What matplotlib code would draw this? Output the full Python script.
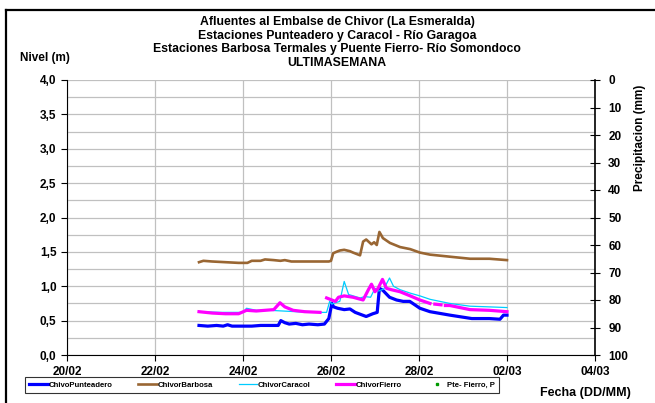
import numpy as np
import matplotlib.pyplot as plt
import matplotlib.dates as mdates
from matplotlib.lines import Line2D
from matplotlib.ticker import MultipleLocator, FuncFormatter
from datetime import datetime, timedelta

plt.switch_backend('Agg')
plt.rcParams['font.family'] = ['Liberation Sans', 'DejaVu Sans']
plt.rcParams['font.weight'] = 'bold'

start = datetime(2023, 2, 20)

# level series: days after 20/02 00:00 and level in metres
punteadero_t = [3.0, 3.2, 3.4, 3.55, 3.65, 3.75, 4.0, 4.2, 4.4, 4.6, 4.8, 4.86, 4.95, 5.05,
                5.2, 5.35, 5.5, 5.7, 5.85, 5.95, 6.02, 6.06, 6.15, 6.3, 6.43, 6.55, 6.8,
                6.95, 7.05, 7.1, 7.18, 7.33, 7.49, 7.64, 7.79, 8.02, 8.25, 8.7, 9.0, 9.2,
                9.4, 9.6, 9.84, 9.92, 10.0]
punteadero_v = [0.43, 0.42, 0.43, 0.42, 0.44, 0.42, 0.42, 0.42, 0.43, 0.43, 0.43, 0.50, 0.47, 0.45,
                0.46, 0.44, 0.45, 0.44, 0.45, 0.53, 0.75, 0.70, 0.68, 0.66, 0.67, 0.62, 0.56,
                0.60, 0.62, 0.97, 0.94, 0.84, 0.80, 0.78, 0.78, 0.68, 0.63, 0.58, 0.55, 0.53,
                0.53, 0.53, 0.52, 0.58, 0.58]

barbosa_t = [3.0, 3.1, 3.3, 3.6, 3.9, 4.1, 4.2, 4.4, 4.5, 4.7, 4.85, 4.95, 5.1, 5.5, 5.95,
             6.0, 6.05, 6.12, 6.2, 6.3, 6.43, 6.5, 6.66, 6.73, 6.8, 6.92, 6.98, 7.04, 7.1,
             7.18, 7.34, 7.57, 7.8, 8.02, 8.25, 8.7, 9.16, 9.6, 10.0]
barbosa_v = [1.35, 1.37, 1.36, 1.35, 1.34, 1.34, 1.37, 1.37, 1.39, 1.38, 1.37, 1.38, 1.36, 1.36, 1.36,
             1.37, 1.48, 1.50, 1.52, 1.53, 1.51, 1.49, 1.45, 1.65, 1.68, 1.61, 1.64, 1.60, 1.79,
             1.70, 1.63, 1.57, 1.54, 1.49, 1.46, 1.43, 1.40, 1.40, 1.38]

caracol_t = [3.0, 3.5, 4.0, 4.08, 4.3, 4.6, 4.9, 5.2, 5.5, 5.9, 5.97, 6.02, 6.1, 6.2, 6.3,
             6.4, 6.66, 6.77, 6.9, 7.0, 7.08, 7.2, 7.33, 7.42, 7.57, 7.8, 8.02, 8.25, 8.7,
             9.16, 9.6, 10.0]
caracol_v = [0.63, 0.62, 0.62, 0.68, 0.65, 0.65, 0.64, 0.63, 0.62, 0.62, 0.78, 0.74, 0.76, 0.78, 1.07,
             0.88, 0.83, 0.85, 0.84, 0.97, 0.93, 0.96, 1.12, 1.00, 0.95, 0.90, 0.86, 0.81, 0.75,
             0.71, 0.70, 0.69]

# NaN entries are missing readings (gaps in the line)
fierro_t = [3.0, 3.3, 3.6, 3.9, 4.08, 4.3, 4.5, 4.7, 4.84, 4.95, 5.14, 5.4, 5.75, 5.82,
            5.9, 6.02, 6.1, 6.17, 6.3, 6.5, 6.73, 6.85, 6.92, 7.0, 7.07, 7.17, 7.26, 7.37,
            7.57, 7.8, 8.02, 8.25, 8.3, 8.36, 8.5, 8.54, 8.6, 8.7, 9.16, 9.6, 10.0]
fierro_v = [0.63, 0.61, 0.60, 0.60, 0.65, 0.64, 0.65, 0.66, 0.76, 0.70, 0.65, 0.63, 0.62, np.nan,
            0.83, 0.80, 0.78, 0.84, 0.86, 0.84, 0.80, 0.95, 1.03, 0.92, 0.97, 1.10, 0.97, 0.95,
            0.92, 0.86, 0.80, 0.75, np.nan, 0.74, 0.73, np.nan, 0.72, 0.72, 0.66, 0.65, 0.63]

# precipitation at Puente Fierro (no rain recorded this week)
lluvia_t = []
lluvia_v = []

titles = ['Afluentes al Embalse de Chivor (La Esmeralda)',
          'Estaciones Punteadero y Caracol - Río Garagoa',
          'Estaciones Barbosa Termales y Puente Fierro- Río Somondoco',
          'ULTIMASEMANA']


def to_dates(days):
    return [start + timedelta(days=d) for d in days]


fig = plt.figure(figsize=(6.55, 4.03), dpi=100)
ax = fig.add_axes([67 / 655, 1 - 355 / 403, 528 / 655, 275 / 403])
ax2 = ax.twinx()

ax.plot(to_dates(punteadero_t), punteadero_v, color='#0000ff', lw=2.3, label='ChivoPunteadero', zorder=3)
ax.plot(to_dates(barbosa_t), barbosa_v, color='#996633', lw=1.9, label='ChivorBarbosa', zorder=3)
ax.plot(to_dates(caracol_t), caracol_v, color='#00ccff', lw=0.9, label='ChivorCaracol', zorder=3)
ax.plot(to_dates(fierro_t), fierro_v, color='#ff00ff', lw=2.3, label='ChivorFierro', zorder=3)
ax2.plot(to_dates(lluvia_t), lluvia_v, ls='none', marker='s', ms=1.8, color='#009900',
         label='Pte- Fierro, P')

ax.set_xlim(start, start + timedelta(days=12))
ax.set_ylim(0, 4)
ax.xaxis.set_major_locator(mdates.DayLocator(interval=2))
ax.xaxis.set_major_formatter(mdates.DateFormatter('%d/%m'))
ax.yaxis.set_major_locator(MultipleLocator(0.5))
ax.yaxis.set_minor_locator(MultipleLocator(0.25))
ax.yaxis.set_major_formatter(FuncFormatter(lambda v, p: f'{v:.1f}'.replace('.', ',')))
ax.grid(True, which='both', axis='y', color='#c0c0c0', lw=0.9)
ax.grid(True, which='major', axis='x', color='#c0c0c0', lw=0.9)
ax.tick_params(axis='y', which='minor', length=0)
ax.tick_params(axis='both', which='major', direction='out', length=4, width=0.8,
               labelsize=8.5, colors='black')
ax.tick_params(axis='x', pad=4)
for s in ['top', 'right']:
    ax.spines[s].set_visible(False)

ax2.set_ylim(100, 0)
ax2.yaxis.set_major_locator(MultipleLocator(10))
ax2.tick_params(axis='y', direction='inout', length=7, width=0.8, labelsize=8.5, pad=6)
ax2.spines['top'].set_visible(False)
ax2.spines['left'].set_visible(False)
ax2.spines['bottom'].set_visible(False)
ax2.spines['right'].set_linewidth(1.2)
for lbl in ax.get_xticklabels() + ax.get_yticklabels() + ax2.get_yticklabels():
    lbl.set_fontweight('bold')

for i, t in enumerate(titles):
    fig.text(337 / 655, 1 - (22 + 13.5 * i) / 403, t, ha='center', va='center', fontsize=8.8,
             fontweight='bold')
fig.text(20 / 655, 1 - 58 / 403, 'Nivel (m)', ha='left', va='center', fontsize=8.5, fontweight='bold')
fig.text(640 / 655, 1 - 138 / 403, 'Precipitacion (mm)', ha='center', va='center', rotation=90,
         fontsize=8.5, fontweight='bold')
fig.text(585 / 655, 1 - 393 / 403, 'Fecha (DD/MM)', ha='center', va='center', fontsize=9,
         fontweight='bold')

handles = ax.get_legend_handles_labels()[0] + ax2.get_legend_handles_labels()[0]
labels = [h.get_label() for h in handles]
leg = fig.legend(handles, labels, loc='center', bbox_to_anchor=(262 / 655, 1 - 385 / 403),
                 ncol=5, frameon=True, fancybox=False, edgecolor='black',
                 handlelength=2.4, handletextpad=0.1, columnspacing=3.3, borderpad=0.55,
                 prop={'size': 5.6, 'weight': 'bold'})
leg.get_frame().set_linewidth(0.8)

# outer frame of the chart area
fig.add_artist(Line2D([6 / 655, 6 / 655], [0, 1 - 10 / 403], color='black', lw=1.6))
fig.add_artist(Line2D([6 / 655, 1], [1 - 10 / 403, 1 - 10 / 403], color='black', lw=1.6))

fig.savefig('out.png', dpi=100)
